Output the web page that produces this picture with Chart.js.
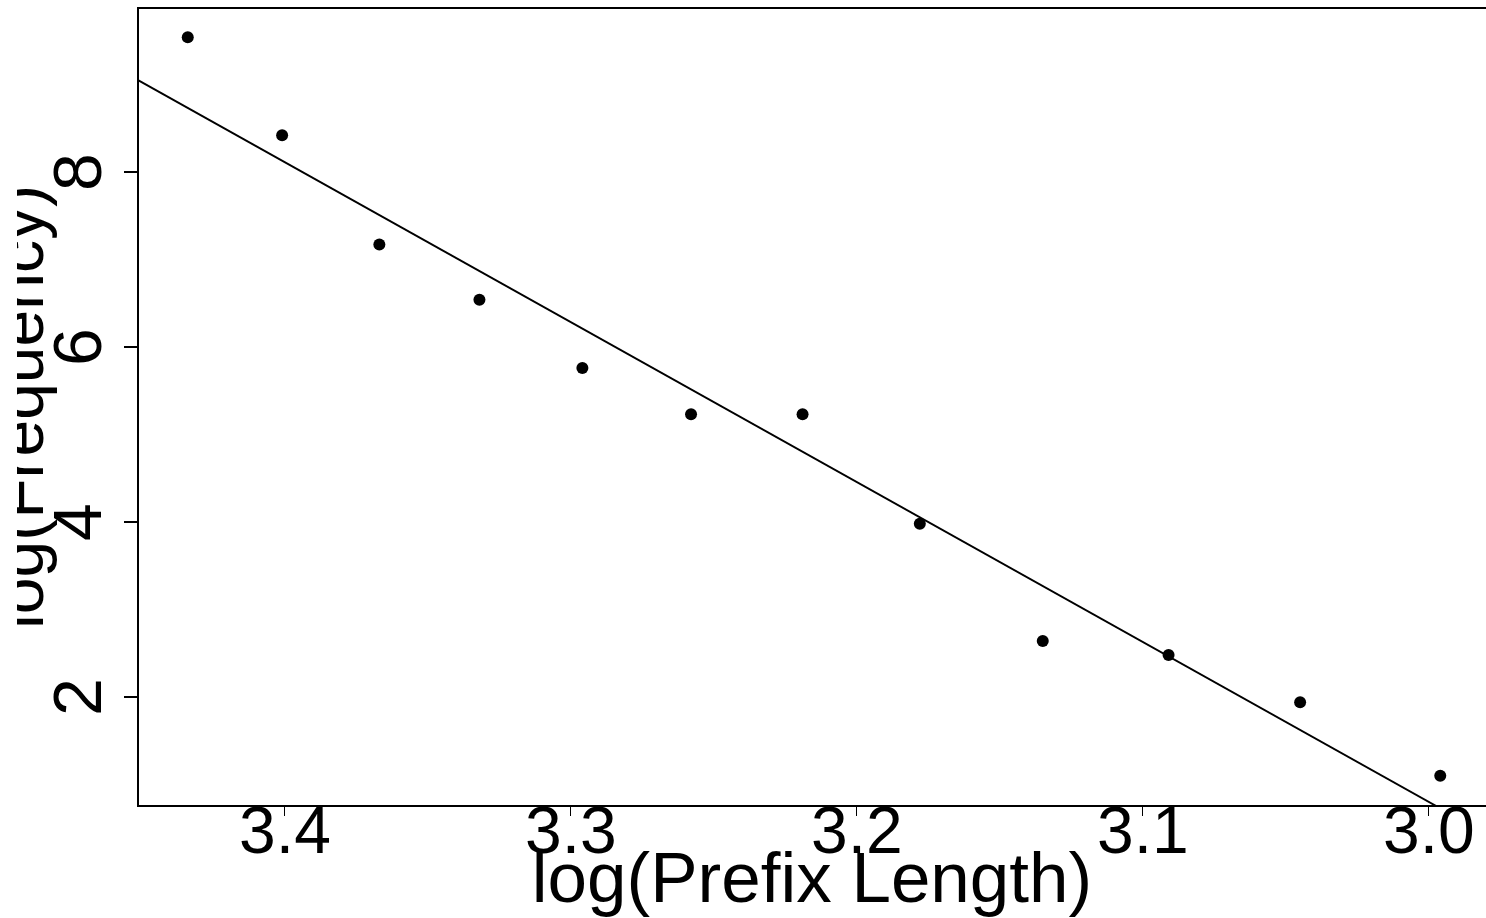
<!DOCTYPE html>
<html lang="en">
<head>
  <meta charset="UTF-8">
  <title>log(Frequency) vs log(Prefix Length)</title>
  <script src="https://cdn.jsdelivr.net/npm/chart.js"></script>
  <style>
    html, body { margin: 0; padding: 0; background: #fff; overflow: hidden; }
    .wrap { position: absolute; left: 17px; top: 0; width: 1469px; height: 918px; }
  </style>
</head>
<body>
  <div class="wrap"><canvas id="zipfChart"></canvas></div>

  <script>
    // values
    const logPrefixLength = [3.434, 3.401, 3.367, 3.332, 3.296, 3.258, 3.219, 3.178, 3.135, 3.091, 3.045, 2.996];
    const logFrequency = [9.54, 8.42, 7.17, 6.54, 5.76, 5.23, 5.23, 3.98, 2.64, 2.48, 1.94, 1.10];

    // fitted line, read at the plot edges
    const fitX = [3.4514, 2.9974];
    const fitY = [9.05, 0.754];

    const xTicks = [3.0, 3.1, 3.2, 3.3, 3.4];
    const yTicks = [2, 4, 6, 8];
    const xRange = [2.98, 3.4514];
    const yRange = [0.754, 9.874];

    const font = "'Liberation Sans', Arial, Helvetica, sans-serif";

    // R style box: top edge (left and bottom come from the axes)
    const topEdge = {
      id: 'topEdge',
      afterDraw(chart) {
        const { ctx, chartArea } = chart;
        ctx.save();
        ctx.strokeStyle = '#000';
        ctx.lineWidth = 2;
        ctx.beginPath();
        ctx.moveTo(chartArea.left - 1, chartArea.top);
        ctx.lineTo(chartArea.right, chartArea.top);
        ctx.stroke();
        ctx.restore();
      }
    };

    new Chart(document.getElementById('zipfChart'), {
      type: 'scatter',
      data: {
        datasets: [
          {
            label: 'observed',
            data: logPrefixLength.map((x, i) => ({ x: x, y: logFrequency[i] })),
            backgroundColor: '#000',
            borderWidth: 0,
            pointRadius: 6,
            pointHoverRadius: 6
          },
          {
            label: 'fit',
            data: fitX.map((x, i) => ({ x: x, y: fitY[i] })),
            showLine: true,
            borderColor: '#000',
            borderWidth: 2,
            pointRadius: 0,
            pointHoverRadius: 0
          }
        ]
      },
      options: {
        responsive: true,
        maintainAspectRatio: false,
        animation: false,
        layout: { autoPadding: false, padding: { top: 8, right: 0, bottom: 0, left: 0 } },
        plugins: {
          legend: { display: false },
          tooltip: { enabled: false }
        },
        scales: {
          x: {
            type: 'linear',
            reverse: true,
            min: xRange[0],
            max: xRange[1],
            afterBuildTicks: s => { s.ticks = xTicks.map(v => ({ value: v })); },
            afterFit: s => { s.height = 112; s.paddingLeft = 0; s.paddingRight = 0; },
            grid: { drawOnChartArea: false, drawTicks: true, tickLength: 10, color: '#000', lineWidth: 1 },
            border: { display: true, color: '#000', width: 2 },
            ticks: {
              color: '#000',
              padding: -21,
              font: { family: font, size: 66 },
              maxRotation: 0,
              callback: v => v.toFixed(1)
            },
            title: {
              display: true,
              text: 'log(Prefix Length)',
              color: '#000',
              padding: 0,
              font: { family: font, size: 71, lineHeight: 1 }
            }
          },
          y: {
            type: 'linear',
            min: yRange[0],
            max: yRange[1],
            afterBuildTicks: s => { s.ticks = yTicks.map(v => ({ value: v })); },
            afterFit: s => { s.width = 121; s.paddingTop = 0; s.paddingBottom = 0; },
            grid: { drawOnChartArea: false, drawTicks: true, tickLength: 14, color: '#000', lineWidth: 2 },
            border: { display: true, color: '#000', width: 2 },
            ticks: {
              color: '#000',
              padding: 23,
              crossAlign: 'center',
              minRotation: 90,
              maxRotation: 90,
              font: { family: font, size: 68 }
            },
            title: {
              display: true,
              text: 'log(Frequency)',
              color: '#000',
              padding: 0,
              font: { family: font, size: 66, lineHeight: 0.23 }
            }
          }
        }
      },
      plugins: [topEdge]
    });
  </script>
</body>
</html>
